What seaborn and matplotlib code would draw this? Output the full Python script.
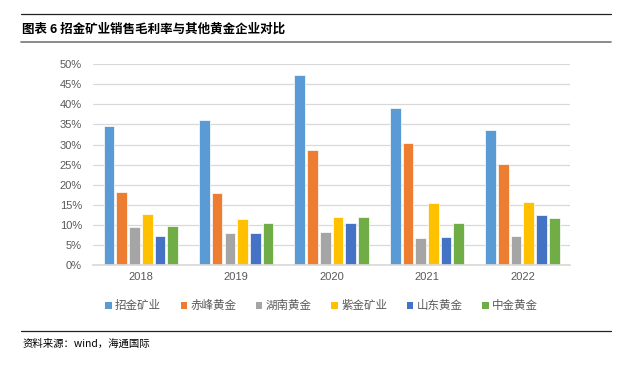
import pandas as pd
import seaborn as sns
import matplotlib.pyplot as plt
from matplotlib.lines import Line2D
from matplotlib.patches import Patch

years = ['2018', '2019', '2020', '2021', '2022']
companies = ['招金矿业', '赤峰黄金', '湖南黄金', '紫金矿业', '山东黄金', '中金黄金']
margins = {
    '招金矿业': [34.6, 36.0, 47.2, 39.2, 33.6],
    '赤峰黄金': [18.2, 17.9, 28.7, 30.3, 25.2],
    '湖南黄金': [9.4, 8.0, 8.2, 6.8, 7.2],
    '紫金矿业': [12.7, 11.4, 12.0, 15.4, 15.7],
    '山东黄金': [7.2, 8.0, 10.4, 7.0, 12.4],
    '中金黄金': [9.7, 10.4, 12.0, 10.5, 11.8],
}
colors = ['#5B9BD5', '#ED7D31', '#A5A5A5', '#FFC000', '#4472C4', '#70AD47']
yticks = [0, 5, 10, 15, 20, 25, 30, 35, 40, 45, 50]


def build_frame():
    rows = []
    for name in companies:
        for year, val in zip(years, margins[name]):
            rows.append({'year': year, 'company': name, 'margin': val})
    return pd.DataFrame(rows)


def main():
    sns.set_theme(style='white')
    plt.rcParams['font.family'] = ['Noto Sans CJK SC', 'DejaVu Sans']
    df = build_frame()

    fig = plt.figure(figsize=(6.21, 3.65), dpi=100)
    ax = fig.add_axes([0.15, 0.274, 0.768, 0.550])
    sns.barplot(data=df, x='year', y='margin', hue='company',
                palette=colors, saturation=1, width=0.8, gap=0.16,
                edgecolor='white', linewidth=0.5, ax=ax, legend=False)

    ax.set_ylim(0, 50)
    ax.set_yticks(yticks)
    ax.set_yticklabels([f'{t}%' for t in yticks], family='Liberation Sans')
    for lab in ax.get_xticklabels():
        lab.set_family('Liberation Sans')
    ax.tick_params(axis='both', length=0, labelsize=8, colors='#595959')
    ax.tick_params(axis='x', pad=5)
    ax.tick_params(axis='y', pad=8)
    ax.yaxis.grid(True, color='#D9D9D9', linewidth=0.9)
    ax.set_axisbelow(True)
    for side in ['left', 'right', 'top']:
        ax.spines[side].set_visible(False)
    ax.spines['bottom'].set_color('#D9D9D9')
    ax.set_xlabel('')
    ax.set_ylabel('')
    ax.set_xlim(-0.5, 4.5)

    handles = [Patch(facecolor=c, edgecolor='none') for c in colors]
    fig.legend(handles, companies, loc='center', ncol=6,
               bbox_to_anchor=(0.518, 0.162), frameon=False,
               fontsize=8.3, labelcolor='#595959', handlelength=0.55,
               handleheight=0.55, handletextpad=0.3, columnspacing=1.7)

    # header / footer rules
    fig.add_artist(Line2D([0.034, 0.984], [0.9616, 0.9616],
                          color='#222222', linewidth=0.9,
                          transform=fig.transFigure))
    fig.add_artist(Line2D([0.034, 0.984], [0.885, 0.885],
                          color='#777777', linewidth=1.2,
                          transform=fig.transFigure))
    fig.add_artist(Line2D([0.034, 0.984], [0.093, 0.093],
                          color='#222222', linewidth=0.9,
                          transform=fig.transFigure))
    fig.text(0.036, 0.921, '图表 6 招金矿业销售毛利率与其他黄金企业对比',
             fontsize=9, fontweight='bold', va='center', color='black')
    fig.text(0.036, 0.0575, '资料来源：wind，海通国际',
             fontsize=7.5, va='center', color='black')

    fig.savefig('out.png', dpi=100)


if __name__ == '__main__':
    main()
